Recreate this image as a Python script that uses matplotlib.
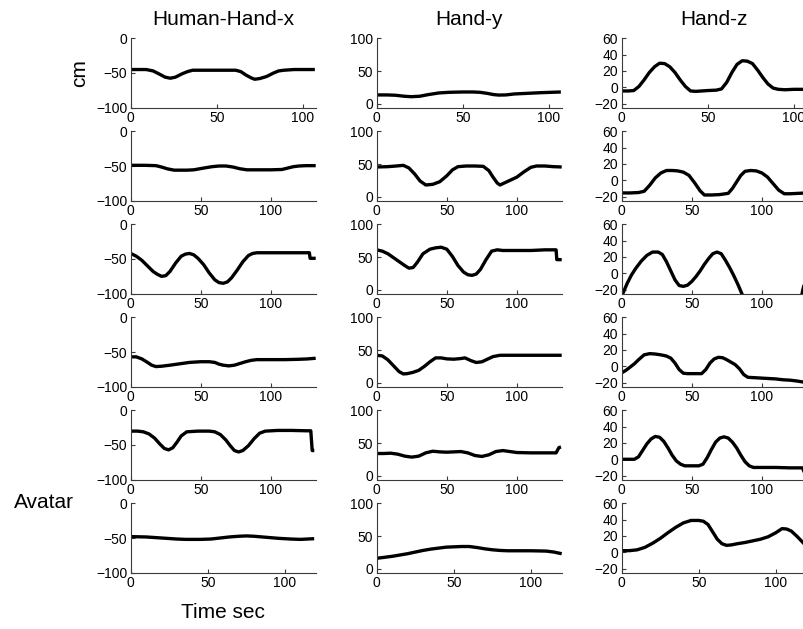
import matplotlib
matplotlib.use("Agg")
import matplotlib.pyplot as plt

plt.rcParams['font.family'] = ['Liberation Sans', 'DejaVu Sans']

# ---- column / row labels ----
col_titles = ["Human-Hand-x", "Hand-y", "Hand-z"]
y_unit = "cm"
row_label = "Avatar"
x_label = "Time sec"

# ---- axis ranges per row and column ----
row_xmax = [107.5, 132, 132, 132, 132, 120]
col_ylim = [(-100, 0), (-6, 100), (-25, 60)]
col_yticks = [[-100, -50, 0], [0, 50, 100], [-20, 0, 20, 40, 60]]
x_ticks = [0, 50, 100]

# ---- Hand-x (cm) ----
hx1_t = [0, 5, 9, 13, 17, 20, 23, 26, 30, 33, 36, 45, 55, 61, 64, 67, 70, 72, 75, 79, 83, 86, 89, 95, 100, 107]
hx1_v = [-45, -45, -45, -47, -52, -56, -57.5, -56, -51, -48, -46, -46, -46, -46, -48, -53, -57, -59, -58, -55, -50, -47, -46, -45, -45, -45]
hx2_t = [0, 10, 18, 22, 26, 31, 40, 45, 52, 58, 63, 68, 73, 78, 83, 90, 100, 108, 112, 116, 120, 125, 132]
hx2_v = [-49, -49, -49.5, -51.5, -54, -56, -56, -55.5, -53, -51, -50, -50, -51.5, -54, -55.5, -55.5, -55.5, -55, -53, -51, -50, -49.5, -49.5]
hx3_t = [0, 4, 8, 12, 16, 19, 22, 25, 28, 32, 36, 39, 42, 45, 48, 52, 56, 60, 63, 66, 69, 72, 76, 80, 84, 87, 90, 100, 110, 120, 127.5, 128, 132]
hx3_v = [-42, -46, -52, -60, -68, -72, -75, -74, -68, -56, -46, -43, -42, -44, -49, -58, -70, -80, -84, -85, -83, -77, -66, -54, -45, -42, -41, -41, -41, -41, -41, -49, -49]
hx4_t = [0, 4, 8, 12, 15, 18, 22, 28, 35, 42, 50, 56, 60, 63, 66, 70, 74, 78, 82, 86, 90, 100, 110, 120, 126, 132]
hx4_v = [-57, -57, -60, -65, -69, -71, -70.5, -69, -67, -65, -64, -64, -65, -67.5, -69, -70, -69, -66.5, -64, -62, -61, -61, -61, -60.5, -60, -59]
hx5_t = [0, 5, 9, 13, 17, 21, 24, 27, 30, 33, 36, 40, 48, 56, 60, 64, 68, 71, 74, 77, 80, 84, 88, 92, 96, 105, 115, 125, 128.5, 129.5, 131]
hx5_v = [-30, -30, -31, -34, -40, -49, -55, -57, -54, -46, -37, -31, -30, -30, -31, -35, -43, -51, -58, -60, -58, -51, -41, -33, -30, -29, -29, -29.5, -29.5, -58, -58]
hx6_t = [0, 10, 20, 30, 36, 45, 52, 58, 64, 70, 75, 80, 88, 96, 104, 110, 119]
hx6_v = [-48, -48.5, -50, -51.5, -52, -52, -51.5, -50, -48.5, -47.5, -47, -47.5, -49, -50.5, -51.5, -52, -51]

# ---- Hand-y (cm) ----
hy1_t = [0, 6, 11, 16, 20, 25, 30, 36, 42, 50, 56, 60, 64, 68, 71, 75, 80, 88, 96, 107]
hy1_v = [13.5, 13.5, 13, 11.5, 10.8, 11.5, 14, 16.5, 17.5, 18, 18, 17.5, 16, 14, 13.3, 13.5, 15, 16, 17, 18]
hy2_t = [0, 8, 14, 19, 23, 27, 31, 35, 40, 45, 50, 54, 58, 64, 70, 76, 80, 83, 86, 88, 92, 96, 100, 105, 110, 114, 120, 126, 132]
hy2_v = [45.5, 46, 47, 48, 44, 35, 24, 18, 19, 23, 32, 41, 46, 47, 47, 46.5, 40, 30, 21, 18, 22, 26, 30, 38, 45, 47, 47, 46, 45.5]
hy3_t = [0, 4, 8, 12, 16, 20, 23, 26, 29, 33, 38, 42, 46, 50, 54, 58, 62, 65, 68, 71, 74, 78, 82, 86, 90, 100, 110, 120, 128, 128.5, 132]
hy3_v = [61, 59, 55, 49, 43, 37, 33, 34, 42, 55, 62, 64, 65, 62, 51, 37, 27, 23, 22, 24, 31, 46, 59, 61, 60, 60, 60, 61, 61, 46, 46]
hy4_t = [0, 4, 8, 12, 16, 19, 22, 26, 30, 34, 38, 42, 46, 50, 55, 60, 63, 67, 71, 75, 79, 83, 88, 100, 110, 120, 132]
hy4_v = [42, 41, 35, 26, 17, 13.5, 14, 16, 19, 25, 32, 38, 38, 36.5, 36, 37, 38, 34, 31, 32, 36, 40, 42, 42, 42, 42, 42]
hy5_t = [0, 5, 10, 15, 20, 25, 30, 35, 40, 45, 50, 55, 60, 65, 70, 75, 80, 85, 90, 95, 100, 110, 120, 128, 130, 131.5]
hy5_v = [34, 34, 34.5, 33, 30, 28.5, 30, 35, 37.5, 36.5, 36, 36.5, 37, 35, 31, 29.5, 32, 37, 38.5, 37, 35.5, 35, 35, 35, 43, 44]
hy6_t = [0, 5, 10, 15, 20, 25, 30, 35, 40, 45, 50, 55, 60, 65, 70, 75, 80, 85, 90, 100, 110, 115, 120]
hy6_v = [16, 17.5, 19, 21, 23, 25.5, 28, 30, 31.5, 33, 33.5, 34, 34, 32.5, 30.5, 29, 28, 27.5, 27.5, 27.5, 27, 25.5, 23]

# ---- Hand-z (cm) ----
hz1_t = [0, 4, 7, 10, 13, 16, 19, 22, 25, 28, 31, 34, 37, 40, 43, 50, 55, 58, 61, 64, 67, 70, 73, 76, 79, 82, 85, 88, 91, 95, 100, 107]
hz1_v = [-4.5, -4.5, -4, 1, 9, 18, 25, 29.5, 29, 25, 18, 9, 1, -4.5, -5, -4, -3.5, -2, 6, 18, 28, 32.5, 32, 29, 21, 12, 4, -1, -2.5, -3, -2.5, -2.5]
hz2_t = [0, 6, 12, 16, 20, 24, 28, 32, 36, 40, 44, 48, 52, 56, 59, 64, 70, 76, 79, 82, 85, 88, 92, 96, 100, 104, 108, 112, 116, 120, 126, 132]
hz2_v = [-15.5, -15.5, -15, -13.5, -6, 3, 9, 12, 12, 11.5, 10, 6, -3, -13, -18, -18, -17.5, -16, -10, -2, 6, 11, 12, 11.5, 9, 4, -4, -12, -16.5, -16.5, -16, -15.5]
hz3_t = [0, 2, 4, 7, 10, 14, 18, 22, 26, 29, 32, 35, 38, 41, 44, 47, 50, 53, 56, 59, 62, 65, 68, 71, 74, 77, 80, 83, 86, 90, 100, 110, 120, 128, 129, 130, 131]
hz3_v = [-28, -20, -12, -2, 6, 15, 22, 26, 26, 23, 14, 3, -8, -15, -16, -14.5, -10, -4, 3, 11, 18, 24, 26, 24, 16, 7, -3, -14, -26, -38, -50, -55, -50, -32, -22, -15, -13]
hz4_t = [0, 3, 6, 9, 12, 16, 20, 24, 28, 32, 35, 38, 41, 44, 47, 52, 57, 60, 63, 66, 69, 72, 75, 78, 81, 84, 87, 90, 95, 100, 105, 110, 115, 120, 125, 132]
hz4_v = [-8, -5, -1, 3, 8, 14, 15.5, 15, 14, 12.5, 10, 4, -4, -8.5, -9, -9, -9, -4, 4, 9, 11, 10.5, 8, 5, 2, -3, -10, -13.5, -14, -14.5, -15, -15.5, -16.5, -17, -18, -20]
hz5_t = [0, 5, 9, 12, 15, 18, 21, 24, 27, 30, 33, 36, 39, 42, 45, 50, 55, 58, 61, 64, 67, 70, 73, 76, 79, 82, 85, 88, 91, 94, 100, 110, 120, 129, 130, 131]
hz5_v = [0, 0, 0, 3, 11, 19, 25, 28, 27, 22, 14, 5, -2, -6, -8, -8, -8, -6, 2, 12, 21, 26, 27.5, 26, 21, 14, 5, -3, -8, -10, -10, -10, -10.5, -10.5, -15, -17]
hz6_t = [0, 5, 10, 15, 20, 25, 30, 35, 40, 45, 50, 53, 56, 59, 62, 65, 68, 71, 75, 80, 85, 90, 95, 100, 104, 107, 110, 114, 117, 120]
hz6_v = [2, 2, 3, 6, 11, 17, 24, 30.5, 36, 39, 39, 38, 34, 25, 16, 10.5, 8.5, 9, 10.5, 12, 14, 16, 19, 24, 29, 28.5, 26, 19, 13, 7]

series = [
    [(hx1_t, hx1_v), (hy1_t, hy1_v), (hz1_t, hz1_v)],
    [(hx2_t, hx2_v), (hy2_t, hy2_v), (hz2_t, hz2_v)],
    [(hx3_t, hx3_v), (hy3_t, hy3_v), (hz3_t, hz3_v)],
    [(hx4_t, hx4_v), (hy4_t, hy4_v), (hz4_t, hz4_v)],
    [(hx5_t, hx5_v), (hy5_t, hy5_v), (hz5_t, hz5_v)],
    [(hx6_t, hx6_v), (hy6_t, hy6_v), (hz6_t, hz6_v)],
]

W, H = 804, 629
fig = plt.figure(figsize=(W / 100, H / 100), dpi=100)

col_left = [130.7, 376.7, 621.7]
ax_w, ax_h = 185, 69.4
row_top0, row_step = 38.3, 93.0

for r in range(6):
    top = row_top0 + r * row_step
    for c in range(3):
        ax = fig.add_axes([col_left[c] / W, 1 - (top + ax_h) / H, ax_w / W, ax_h / H])
        t, v = series[r][c]
        ax.plot(t, v, color='black', lw=2.4, solid_capstyle='butt', solid_joinstyle='round')
        ax.set_xlim(0, row_xmax[r])
        ax.set_ylim(*col_ylim[c])
        ax.set_xticks(x_ticks)
        ax.set_yticks(col_yticks[c])
        for s in ('top', 'right'):
            ax.spines[s].set_visible(False)
        for s in ('left', 'bottom'):
            ax.spines[s].set_linewidth(0.8)
            ax.spines[s].set_color('#3a3a3a')
        ax.tick_params(direction='in', length=3, width=0.8, color='#3a3a3a',
                       labelsize=10, pad=2.5, labelcolor='black')
        ax.patch.set_alpha(0)

# column titles
for c, title in enumerate(col_titles):
    fig.text((col_left[c] + ax_w / 2) / W, 1 - 25 / H, title,
             ha='center', va='baseline', fontsize=15)

fig.text(80 / W, 1 - 73 / H, y_unit, rotation=90, ha='center', va='center', fontsize=15)
fig.text(14 / W, 1 - 502.5 / H, row_label, ha='left', va='center', fontsize=15)
fig.text((col_left[0] + ax_w / 2) / W, 1 - 613 / H, x_label, ha='center', va='center', fontsize=15)

fig.savefig("out.png", dpi=100)
